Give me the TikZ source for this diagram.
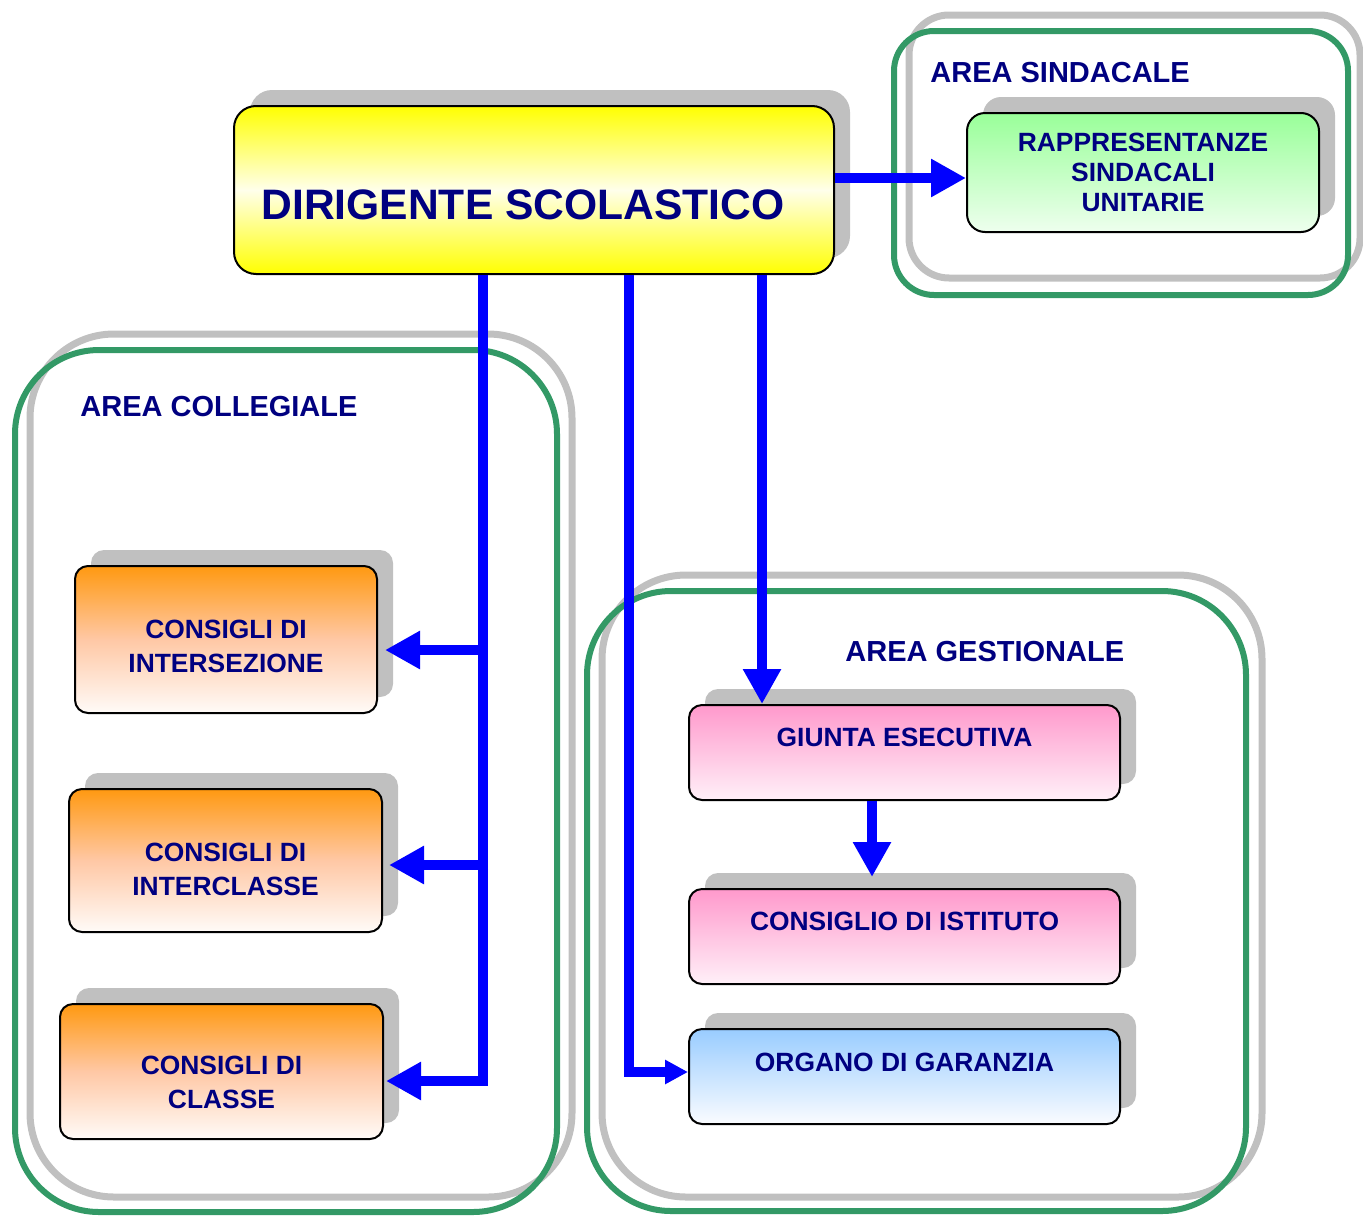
\documentclass[tikz,border=0pt]{standalone}
\usepackage{fontspec}
\setmainfont{Liberation Sans}
\usepackage{xcolor}
\usepackage{tikz}
\usetikzlibrary{calc,arrows.meta,positioning,shadows}

\definecolor{navy}{HTML}{000080}
\definecolor{framegreen}{HTML}{339966}
\definecolor{shadegray}{HTML}{C0C0C0}
\definecolor{linkblue}{HTML}{0000FF}

\tikzset{
  box/.style={draw=black, line width=1pt, rounded corners=6.5pt, inner sep=0pt,
    text=navy, align=center, font=\fontsize{13.2}{17}\selectfont\bfseries,
    general shadow={shadow xshift=8pt, shadow yshift=8pt, fill=shadegray}},
  yellowbox/.style={box, rounded corners=11pt, top color=yellow, bottom color=yellow, middle color=yellow!8},
  greenbox/.style={box, rounded corners=9pt, top color={rgb,255:red,153;green,255;blue,153}, bottom color={rgb,255:red,238;green,255;blue,238}},
  orangebox/.style={box, top color={rgb,255:red,255;green,153;blue,17}, bottom color={rgb,255:red,255;green,251;blue,248}, middle color={rgb,255:red,255;green,200;blue,165}},
  pinkbox/.style={box, top color={rgb,255:red,255;green,153;blue,204}, bottom color={rgb,255:red,255;green,240;blue,248}},
  bluebox/.style={box, top color={rgb,255:red,153;green,204;blue,255}, bottom color={rgb,255:red,250;green,252;blue,255}},
  areaframe/.style={draw=framegreen, line width=3pt, rounded corners=#1},
  areashade/.style={draw=shadegray, line width=3.5pt, rounded corners=#1},
  arealabel/.style={anchor=base west, inner sep=0pt, text=navy, font=\fontsize{14.5}{17}\selectfont\bfseries},
  link/.style={draw=linkblue, line width=5pt},
  arr/.style={link, -{Triangle[width=18pt,length=17.5pt]}},
  smallarr/.style={link, -{Triangle[width=11.5pt,length=11.5pt]}},
}

\begin{document}
\begin{tikzpicture}[x=0.5pt,y=-0.5pt]
\useasboundingbox (0,0) rectangle (1363,1215);

%%%%%%%%%%%%%%% areas
\draw[areashade=20pt] (909,15) rectangle (1360,278);
\draw[areaframe=20pt] (894,31) rectangle (1348,295);
\node[arealabel] (as) at (930,82) {AREA SINDACALE};

\draw[areashade=42pt] (30,334) rectangle (572,1197);
\draw[areaframe=42pt] (15,350) rectangle (557,1212);
\node[arealabel] (ac) at (80,416) {AREA COLLEGIALE};

\draw[areashade=42pt] (602,575) rectangle (1262,1197);
\draw[areaframe=42pt] (587,591) rectangle (1246,1211);
\node[arealabel] (ag) at (845,661) {AREA GESTIONALE};

%%%%%%%%%%%%%%% boxes
\node[yellowbox, minimum width=300pt, minimum height=84pt, text height=29pt, text depth=0pt,
  font=\fontsize{21.3}{25}\selectfont\bfseries] (DS) at (534,190) {DIRIGENTE SCOLASTICO\hspace*{11pt}};

\node[greenbox, minimum width=176pt, minimum height=59.5pt, font=\fontsize{13.2}{15}\selectfont\bfseries]
  (RSU) at (1143,172.5) {RAPPRESENTANZE\\SINDACALI\\UNITARIE};

\node[orangebox, minimum width=151pt, minimum height=73.5pt, text height=33.5pt] (CI) at (226,639.5) {CONSIGLI DI\\INTERSEZIONE};
\node[orangebox, minimum width=156.5pt, minimum height=71.5pt, text height=35pt] (CIC) at (225.5,860.5) {CONSIGLI DI\\INTERCLASSE};
\node[orangebox, minimum width=161.5pt, minimum height=67.5pt, text height=37.5pt] (CC) at (221.5,1071.5) {CONSIGLI DI\\CLASSE};

\node[pinkbox, minimum width=215.5pt, minimum height=47.5pt, text height=0pt, text depth=6.5pt] (GE) at (904.5,752.5) {GIUNTA ESECUTIVA};
\node[pinkbox, minimum width=215.5pt, minimum height=47.5pt, text height=0pt, text depth=6.5pt] (CDI) at (904.5,936.5) {CONSIGLIO DI ISTITUTO};
\node[bluebox, minimum width=215.5pt, minimum height=47.5pt, text height=0pt, text depth=5.5pt] (OG) at (904.5,1076.5) {ORGANO DI GARANZIA};

%%%%%%%%%%%%%%% links
\coordinate (r) at (900,178);
\coordinate (b1) at (483,650);
\coordinate (b2) at (488,865);
\coordinate (b3) at (483,1081);
\coordinate (g) at (629,1072);
\coordinate (k) at (762,704);
\coordinate (m) at (872,840);

\draw[arr] (DS.east |- r) -- (RSU.west |- r);

\draw[arr, shorten >=1pt] (DS.south -| b3) |- (b3 -| CC.east);
\draw[arr, shorten >=3.5pt] (b1) -- (b1 -| CI.east);
\draw[arr, shorten >=3pt] (b2) -- (b2 -| CIC.east);

\draw[smallarr] (DS.south -| g) |- (g -| OG.west);
\draw[arr] (DS.south -| k) -- (GE.north -| k);
\draw[arr, shorten >=5.5pt] (GE.south -| m) -- (CDI.north -| m);

\end{tikzpicture}
\end{document}
